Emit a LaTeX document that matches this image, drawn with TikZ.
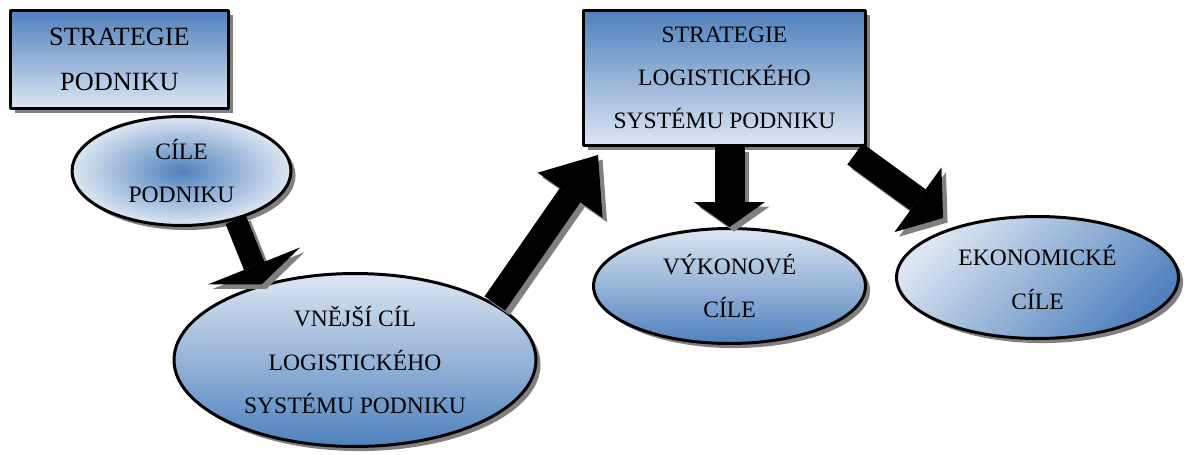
\documentclass[tikz,border=0pt]{standalone}
\usepackage{fontspec}
\setmainfont{Liberation Serif}
\usetikzlibrary{shapes.geometric,shadows,arrows.meta}
\definecolor{blu}{HTML}{4F81BD}
\definecolor{lite}{HTML}{DCE6F2}
\begin{document}
\begin{tikzpicture}[x=0.02cm, y=-0.02cm, line join=round,
	every node/.style={font=\fontsize{13.4}{24.5}\selectfont, align=center, inner sep=0pt},
	shad/.style={drop shadow={shadow xshift=2.6pt, shadow yshift=-2.6pt, fill=black!50, opacity=1}},
	box/.style={rectangle, draw, line width=1.7pt, top color=blu, bottom color=lite, shad},
	oval/.style={ellipse, draw, line width=1.7pt, shad},
	blk/.style n args={3}{line width=#1, -{Triangle[length=#2, width=#3, line width=0pt]}}]
	\useasboundingbox (0,0) rectangle (1184,454);
	% boxes and goals
	\node[box, minimum width=4.36cm, minimum height=1.96cm, font=\fontsize{15}{25.5}\selectfont] (sp) at (119.5,59.5) {STRATEGIE\\PODNIKU};
	\node[oval, minimum width=4.38cm, minimum height=2.18cm, inner color=blu, outer color=lite] (cp) at (181.5,171) {CÍLE\\PODNIKU};
	\node[oval, minimum width=7.24cm, minimum height=3.46cm, top color=lite, bottom color=blu] (vn) at (355,360) {VNĚJŠÍ CÍL\\LOGISTICKÉHO\\SYSTÉMU PODNIKU};
	\node[box, minimum width=5.64cm, minimum height=2.7cm] (lss) at (724.5,78) {STRATEGIE\\LOGISTICKÉHO\\SYSTÉMU PODNIKU};
	\node[oval, minimum width=5.44cm, minimum height=2.3cm, top color=lite, bottom color=blu] (vc) at (729.5,286) {VÝKONOVÉ\\CÍLE};
	\node[oval, minimum width=5.64cm, minimum height=2.44cm, top color=lite, bottom color=blu, shading angle=45] (ec) at (1037.5,277.5) {EKONOMICKÉ\\CÍLE};
	\coordinate (t2) at ([shift={(16,8)}]lss.south west);
	\coordinate (s4) at ([shift={(-12,7)}]lss.south east);
	\coordinate (t4) at ([shift={(-94.5,-59.5)}]ec.center);
	% block arrows, shadow first
	\foreach \c/\s in {black!50/2.6pt, black/0pt}{
	\begin{scope}[color=\c, transform canvas={shift={(\s,-\s)}}]
	\draw[blk={0.44cm}{0.4cm}{1.98cm}] (cp.-42) -- (vn.141);
	\draw[blk={0.5cm}{0.98cm}{1.58cm}] (vn.22) -- (t2);
	\draw[blk={0.6cm}{0.5cm}{1.42cm}] (lss.south -| vc.north) -- (vc.north);
	\draw[blk={0.52cm}{0.62cm}{1.6cm}] (s4) -- (t4);
	\end{scope}}
\end{tikzpicture}
\end{document}
